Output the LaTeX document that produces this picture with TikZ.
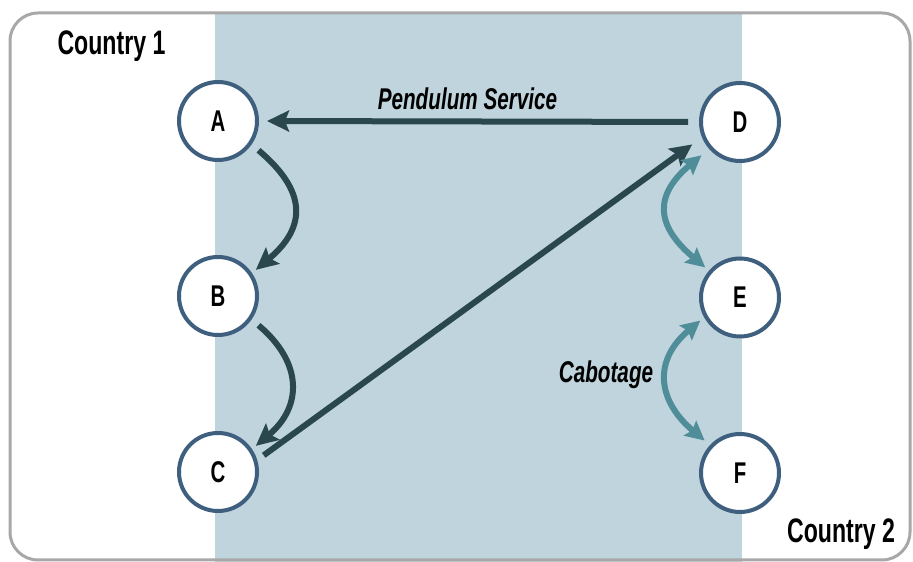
\documentclass[tikz,border=0pt]{standalone}
\usepackage{fontspec}
\newfontfamily\cfont[FakeStretch=0.68]{Liberation Sans}
\newfontfamily\ifont[FakeStretch=0.69]{Liberation Sans}
\usetikzlibrary{arrows.meta}
\definecolor{bandblue}{HTML}{BFD4DC}
\definecolor{ringblue}{HTML}{3E5F7E}
\definecolor{darkarrow}{HTML}{2B474E}
\definecolor{tealarrow}{HTML}{4F8D99}
\definecolor{framegray}{HTML}{A8A8A8}
\tikzset{
  place/.style={circle, draw=ringblue, line width=4pt, fill=white, minimum size=78pt, inner sep=0pt, font=\cfont\bfseries\fontsize{30}{30}\selectfont},
  darrow/.style={draw=darkarrow, line width=6pt, -{Stealth[length=22pt,width=21pt,inset=4pt]}},
  tarrow/.style={draw=tealarrow, line width=6pt, {Stealth[length=19pt,width=19pt,inset=3pt]}-{Stealth[length=19pt,width=19pt,inset=3pt]}},
  lbl/.style={font=\cfont\bfseries\fontsize{34}{34}\selectfont, anchor=base, inner sep=0pt},
  ilbl/.style={font=\ifont\bfseries\itshape\fontsize{30}{30}\selectfont, anchor=base, inner sep=0pt}
}
\begin{document}
\begin{tikzpicture}[x=1pt,y=1pt]
\useasboundingbox (0,0) rectangle (913,562);
\clip (0,0) rectangle (913,562);
\fill[white] (0,0) rectangle (913,562);
\fill[bandblue] (215,0) rectangle (742,549);
\draw[framegray, line width=3pt, rounded corners=28pt] (10,2) rectangle (910,549);
\node[place] (A) at (218,441) {A};
\node[place] (B) at (218,266) {B};
\node[place] (C) at (218,90) {C};
\node[place] (D) at (740,440) {D};
\node[place] (E) at (740,264.5) {E};
\node[place] (F) at (740,89) {F};
\node[lbl] (c1) at (111.5,507) {Country 1};
\node[lbl] (c2) at (841,19) {Country 2};
\draw[darrow, shorten <=11pt, shorten >=8pt] (D.west) -- (A.east);
\node[ilbl] (pend) at (467.5,452) {Pendulum Service};
\draw[darrow, shorten <=8pt, shorten >=12pt] (C.17) -- (D.202);
\draw[darrow, shorten <=9pt, shorten >=5pt] (A.-35) to[out=-40,in=40,looseness=1.43] (B.34);
\draw[darrow, shorten <=9pt, shorten >=5pt] (B.-35) to[out=-40,in=40,looseness=1.31] (C.34);
\draw[tarrow, shorten <=10pt, shorten >=5pt] (D.221) to[out=-140,in=140,looseness=1.5] (E.139);
\draw[tarrow, shorten <=5pt, shorten >=7pt] (E.209) to[out=-140,in=140,looseness=1.36] (F.137);
\node[ilbl] (cab) at (606,179) {Cabotage};
\end{tikzpicture}
\end{document}
